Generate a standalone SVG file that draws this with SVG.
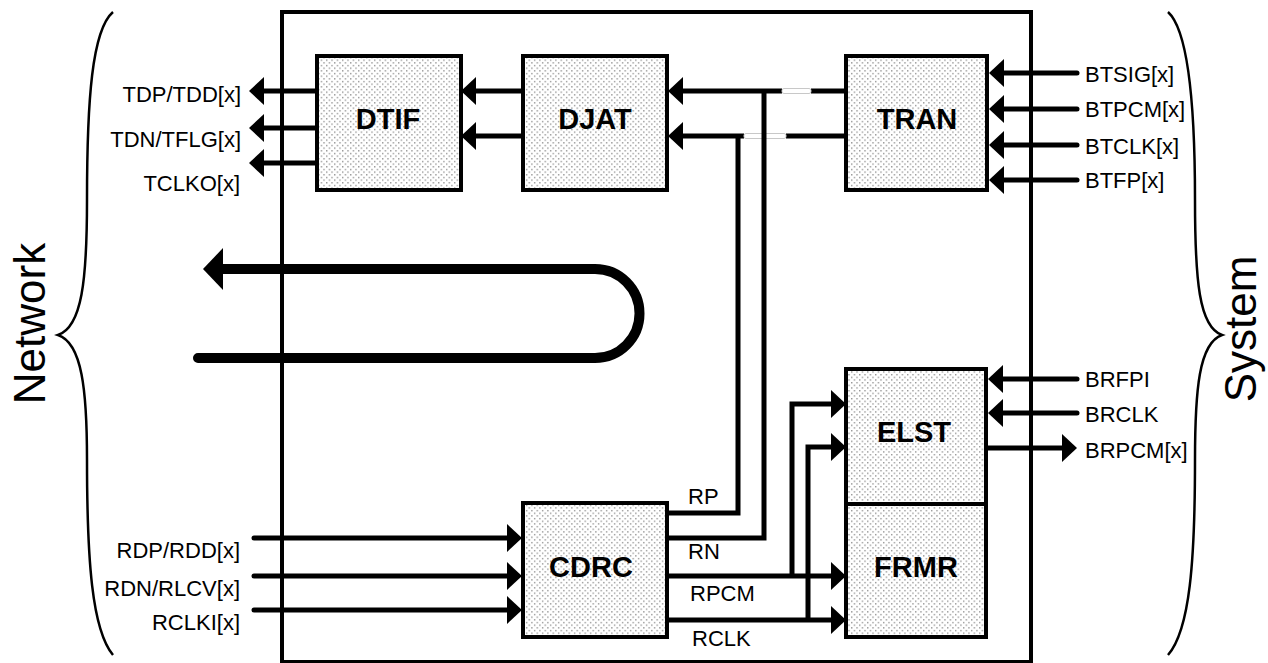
<svg xmlns="http://www.w3.org/2000/svg" width="1268" height="663" viewBox="0 0 1268 663">
<style>
.box{stroke:#000;stroke-width:4;fill:url(#dots)}
.nm{font-family:"Liberation Sans",Arial,sans-serif;font-weight:bold;font-size:29px;text-anchor:middle;fill:#000}
.lb{font-family:"Liberation Sans",Arial,sans-serif;font-size:22px;fill:#000}
.end{text-anchor:end}
.big{font-family:"Liberation Sans",Arial,sans-serif;font-size:44px;text-anchor:middle;fill:#000}
.w{stroke:#000;stroke-width:5;fill:none}
.a{marker-end:url(#ah)}
.rc{stroke-linecap:round}
.gap{fill:#fff;stroke:#c8c8c8;stroke-width:1}
.brace{stroke:#000;stroke-width:2.5;fill:none}
</style>
<defs>
<pattern id="dots" width="5.33" height="5.33" patternUnits="userSpaceOnUse">
<rect width="5.33" height="5.33" fill="#fff"/>
<rect x="1" y="1" width="1.2" height="1.2" fill="#707070"/>
<rect x="3.67" y="3.67" width="1.2" height="1.2" fill="#707070"/>
</pattern>
<marker id="ah" markerUnits="userSpaceOnUse" markerWidth="20" markerHeight="32" viewBox="0 -16 20 32" refX="0" refY="0" orient="auto" overflow="visible">
<path d="M0,-14 L15,0 L0,14 z" fill="#000"/>
</marker>
<marker id="bigah" markerUnits="userSpaceOnUse" markerWidth="24" markerHeight="46" viewBox="0 -23 24 46" refX="0" refY="0" orient="auto" overflow="visible">
<path d="M0,-21 L20,0 L0,21 z" fill="#000"/>
</marker>
</defs>
<rect width="1268" height="663" fill="#fff"/>

<g id="frame">
<rect x="282" y="12" width="749" height="650" fill="none" stroke="#000" stroke-width="4"/>
</g>

<g id="braces">
<path class="brace" d="M113,12 C92,30 87,100 87,200 C87,280 82,327 58,335 C82,343 87,390 87,460 C87,560 92,630 113,655"/>
<path class="brace" d="M1168,12 C1188,30 1195,100 1195,200 C1195,280 1199,327 1222,335 C1199,343 1195,390 1195,460 C1195,560 1190,630 1168,655"/>
<text class="big" transform="translate(45,323.5) rotate(-90)">Network</text>
<text class="big" transform="translate(1256,329) rotate(-90)">System</text>
</g>

<g id="DTIF"><rect class="box" x="317" y="56" width="144" height="134"/><text class="nm" x="388" y="129">DTIF</text></g>
<g id="DJAT"><rect class="box" x="523" y="56" width="144" height="134"/><text class="nm" x="595" y="129">DJAT</text></g>
<g id="TRAN"><rect class="box" x="846" y="56" width="141" height="134"/><text class="nm" x="917" y="129">TRAN</text></g>
<g id="ELST"><rect class="box" x="846" y="369" width="140" height="135"/><text class="nm" x="914" y="442">ELST</text></g>
<g id="FRMR"><rect class="box" x="846" y="504" width="140" height="133"/><text class="nm" x="916" y="577">FRMR</text></g>
<g id="CDRC"><rect class="box" x="523" y="503" width="144" height="134"/><text class="nm" x="591" y="577">CDRC</text></g>

<g id="connectors">
<!-- DTIF outputs -->
<path class="w a" d="M317,91 H264"/>
<path class="w a" d="M317,128 H264"/>
<path class="w a" d="M317,163 H264"/>
<!-- DJAT to DTIF -->
<path class="w a" d="M523,91 H476"/>
<path class="w a" d="M523,136 H476"/>
<!-- TRAN to DJAT with gaps -->
<path class="w" d="M846,91 H811"/>
<path class="w a" d="M782,91 H683"/>
<rect class="gap" x="782" y="88.5" width="29" height="5" rx="2"/>
<path class="w" d="M846,136 H786"/>
<path class="w a" d="M744,136 H683"/>
<rect class="gap" x="744" y="133.5" width="42" height="5" rx="2"/>
<!-- RP / RN -->
<path class="w" d="M667,513 H738 V136"/>
<path class="w" d="M667,538 H764 V91"/>
<!-- TRAN inputs -->
<path class="w a rc" d="M1077,73 H1004"/>
<path class="w a rc" d="M1077,109 H1004"/>
<path class="w a rc" d="M1077,145 H1004"/>
<path class="w a rc" d="M1077,180 H1004"/>
<!-- ELST right side -->
<path class="w a rc" d="M1077,379 H1003"/>
<path class="w a rc" d="M1077,413 H1003"/>
<path class="w a" d="M986,448 H1062"/>
<!-- CDRC inputs -->
<path class="w a rc" d="M254,538 H507"/>
<path class="w a rc" d="M254,576 H507"/>
<path class="w a rc" d="M254,610 H507"/>
<!-- RPCM / RCLK -->
<path class="w a" d="M667,576 H831"/>
<path class="w a" d="M792,576 V404 H831"/>
<path class="w a" d="M667,620 H831"/>
<path class="w a" d="M808,620 V447 H831"/>
<!-- loopback -->
<path d="M198,358 H595 A44.5,44.5 0 0 0 595,269 H223" stroke="#000" stroke-width="10" fill="none" stroke-linecap="round" marker-end="url(#bigah)"/>
</g>

<g id="labels">
<text class="lb end" x="241" y="102">TDP/TDD[x]</text>
<text class="lb end" x="241" y="147">TDN/TFLG[x]</text>
<text class="lb end" x="240" y="191">TCLKO[x]</text>
<text class="lb" x="1085" y="82">BTSIG[x]</text>
<text class="lb" x="1085" y="117">BTPCM[x]</text>
<text class="lb" x="1085" y="154">BTCLK[x]</text>
<text class="lb" x="1085" y="188">BTFP[x]</text>
<text class="lb" x="1085" y="387">BRFPI</text>
<text class="lb" x="1085" y="422">BRCLK</text>
<text class="lb" x="1085" y="458">BRPCM[x]</text>
<text class="lb end" x="240" y="558">RDP/RDD[x]</text>
<text class="lb end" x="240" y="596">RDN/RLCV[x]</text>
<text class="lb end" x="240" y="630">RCLKI[x]</text>
<text class="lb" x="688" y="504">RP</text>
<text class="lb" x="688" y="559">RN</text>
<text class="lb" x="690" y="601">RPCM</text>
<text class="lb" x="692" y="646">RCLK</text>
</g>
</svg>
